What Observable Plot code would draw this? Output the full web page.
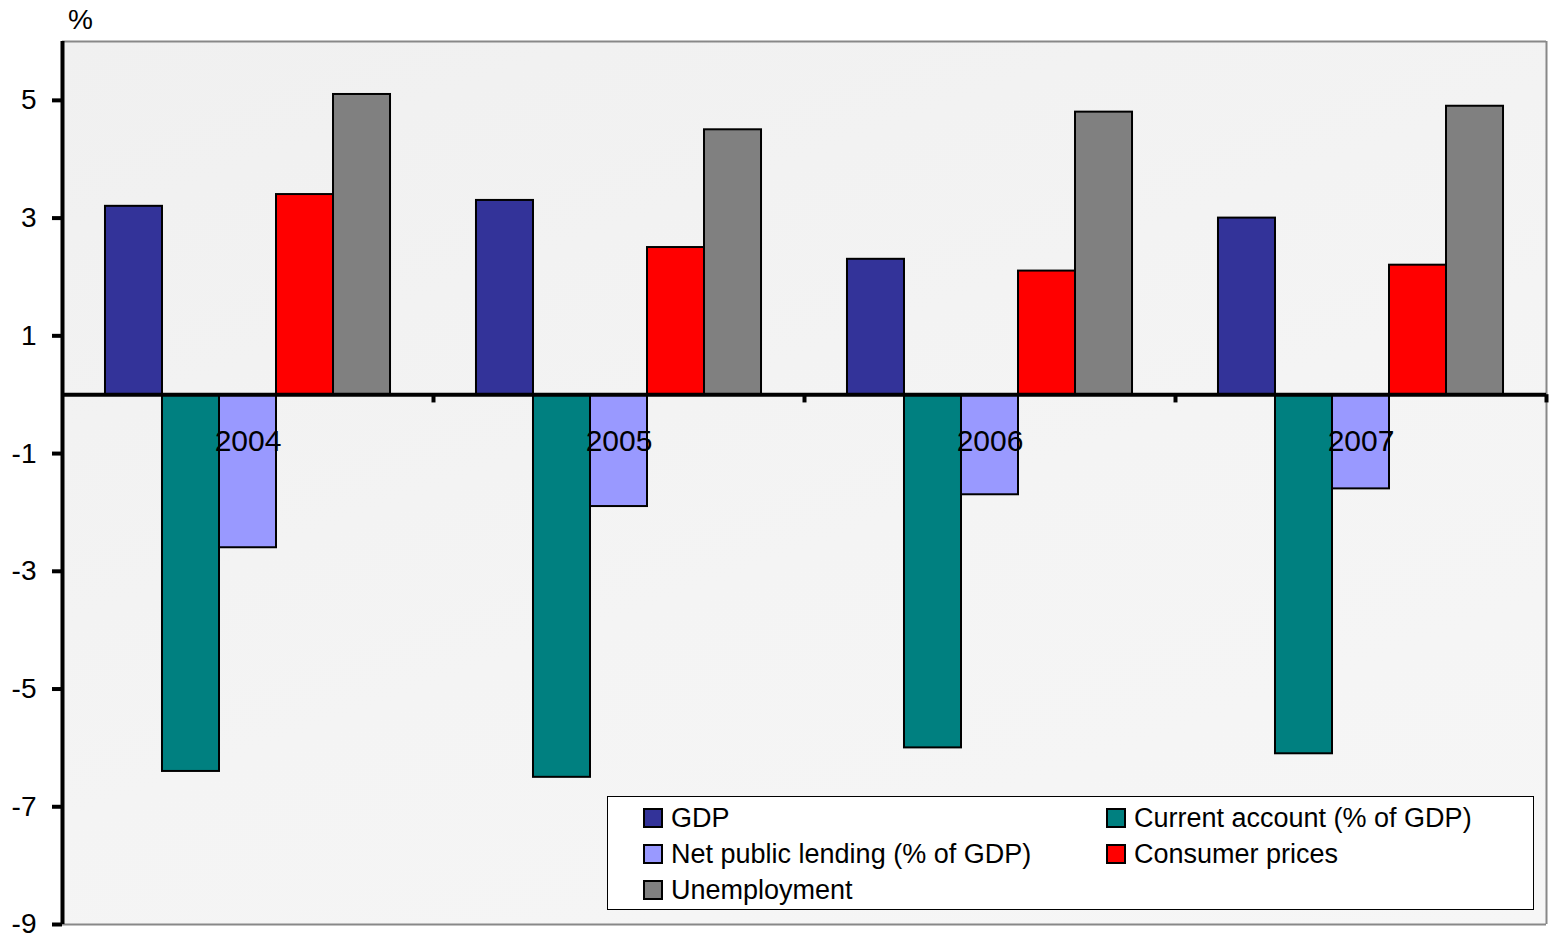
<!DOCTYPE html>
<html>
<head>
<meta charset="utf-8">
<script src="https://cdn.jsdelivr.net/npm/d3@7"></script>
<script src="https://cdn.jsdelivr.net/npm/@observablehq/plot@0.6"></script>
<style>
  html, body { margin: 0; padding: 0; background: #fff; }
  #wrap { position: relative; width: 1552px; height: 935px; font-family: "Liberation Sans", Arial, sans-serif; }
  #bg { position: absolute; background: linear-gradient(160deg, #f0f0f0 0%, #f4f4f4 55%, #f6f6f6 100%); }
  #legend { position: absolute; background: #fff; border: 1.5px solid #000; box-sizing: border-box;
            display: grid; align-content: start; }
  .item { display: flex; align-items: center; height: 36px; font-size: 27px; color: #000; white-space: nowrap; }
  .sw { width: 20px; height: 20px; box-sizing: border-box; border: 2px solid #000; margin-right: 8px; flex: none; }
  #pct { position: absolute; font-size: 28px; line-height: 1; }
</style>
</head>
<body>
<div id="wrap"></div>
<script>
// ---- data ----
const years = ["2004", "2005", "2006", "2007"];
const series = ["GDP", "Current account (% of GDP)", "Net public lending (% of GDP)", "Consumer prices", "Unemployment"];
const colors = ["#333399", "#008080", "#9999ff", "#ff0000", "#808080"];
const gdp = [3.2, 3.3, 2.3, 3.0];
const currentAccount = [-6.4, -6.5, -6.0, -6.1];
const netLending = [-2.6, -1.9, -1.7, -1.6];
const consumerPrices = [3.4, 2.5, 2.1, 2.2];
const unemployment = [5.1, 4.5, 4.8, 4.9];
const yTicks = [-9, -7, -5, -3, -1, 1, 3, 5];
const yDomain = [-9, 6];
const unitLabel = "%";
// legend order (two columns, row-major)
const legendOrder = ["GDP", "Current account (% of GDP)", "Net public lending (% of GDP)", "Consumer prices", "Unemployment"];

// ---- layout ----
const W = 1552, H = 935;
const ML = 62, MR = 6, MT = 41, MB = 11;
const facetW = (W - ML - MR) / years.length;
const barPadOuter = 0.754;

const valuesBySeries = [gdp, currentAccount, netLending, consumerPrices, unemployment];
const table = [];
series.forEach((s, j) => years.forEach((y, i) => table.push({year: y, series: s, value: valuesBySeries[j][i]})));

const chart = Plot.plot({
  width: W,
  height: H,
  marginLeft: ML,
  marginRight: MR,
  marginTop: MT,
  marginBottom: MB,
  style: {fontFamily: "Liberation Sans, Arial, sans-serif", fontSize: "28px", background: "transparent", overflow: "visible", color: "#000"},
  fx: {domain: years, padding: 0, axis: null, round: false},
  x: {domain: series, paddingInner: 0, paddingOuter: barPadOuter, axis: null, round: false},
  y: {domain: yDomain, label: null},
  color: {domain: series, range: colors},
  marks: [
    Plot.ruleY([yDomain[1], yDomain[0]], {stroke: "#888", strokeWidth: 2}),
    Plot.ruleX([years[years.length - 1]], {fx: d => d, x: null, dx: facetW / 2, stroke: "#888", strokeWidth: 2}),
    Plot.barY(table, {fx: "year", x: "series", y1: () => 0, y2: "value", fill: "series", stroke: "#000", strokeWidth: 2}),
    Plot.ruleY([0], {stroke: "#000", strokeWidth: 4}),
    Plot.ruleX(years, {fx: d => d, x: null, dx: facetW / 2, y1: () => 0, y2: () => -0.14, stroke: "#000", strokeWidth: 4}),
    Plot.ruleX([years[0]], {fx: d => d, x: null, dx: -facetW / 2, stroke: "#000", strokeWidth: 4}),
    Plot.axisY(yTicks, {tickSize: 10, tickPadding: 16, strokeWidth: 4, fontSize: 28, tickFormat: d => String(d), label: null}),
    Plot.text(years, {fx: d => d, frameAnchor: "middle", y: () => 0, dy: 47, text: d => d, fontSize: 30, fill: "#000"})
  ]
});

const wrap = document.getElementById("wrap");

// plot-area background (subtle gradient)
const bg = document.createElement("div");
bg.id = "bg";
bg.style.left = ML + "px";
bg.style.top = MT + "px";
bg.style.width = (W - ML - MR) + "px";
bg.style.height = (H - MT - MB) + "px";
wrap.appendChild(bg);

chart.style.position = "absolute";
chart.style.left = "0px";
chart.style.top = "0px";
wrap.appendChild(chart);

// unit label
const pct = document.createElement("div");
pct.id = "pct";
pct.textContent = unitLabel;
pct.style.left = (ML + 6) + "px";
pct.style.top = "6px";
wrap.appendChild(pct);

// legend
const legend = document.createElement("div");
legend.id = "legend";
legend.style.left = "607px";
legend.style.top = "796px";
legend.style.width = "927px";
legend.style.height = "114px";
legend.style.paddingLeft = "35px";
legend.style.paddingTop = "3px";
legend.style.gridTemplateColumns = "463px auto";
legendOrder.forEach(name => {
  const it = document.createElement("div");
  it.className = "item";
  const sw = document.createElement("span");
  sw.className = "sw";
  sw.style.background = colors[series.indexOf(name)];
  const tx = document.createElement("span");
  tx.textContent = name;
  it.appendChild(sw);
  it.appendChild(tx);
  legend.appendChild(it);
});
wrap.appendChild(legend);
</script>
</body>
</html>
